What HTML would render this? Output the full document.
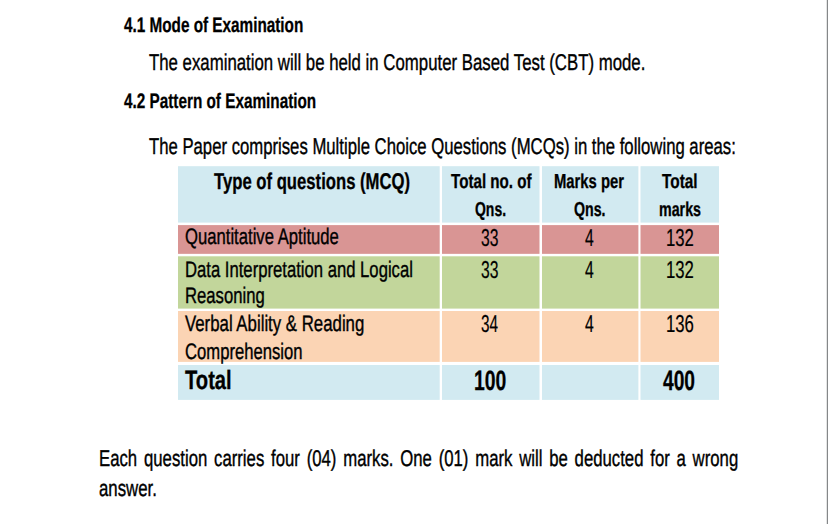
<!DOCTYPE html>
<html><head><meta charset="utf-8"><title>Examination Pattern</title>
<style>
html,body{margin:0;padding:0;background:#fff;}
body{width:828px;height:524px;position:relative;overflow:hidden;font-family:"Liberation Sans",sans-serif;color:#000;}
.c{position:absolute;}
.t{position:absolute;white-space:pre;transform-origin:0 0;line-height:normal;text-rendering:geometricPrecision;}
.r{-webkit-text-stroke:0.38px #000;}
.b{font-weight:bold;-webkit-text-stroke:0.3px #000;}
.n{-webkit-text-stroke:0.2px #000;}
</style></head><body>
<svg class="c" style="left:0;top:0" width="828" height="524" viewBox="0 0 828 524" shape-rendering="geometricPrecision">
<rect x="178" y="166.2" width="261.70" height="56.40" fill="#d2eaf1"/>
<rect x="442" y="166.2" width="97.50" height="56.40" fill="#d2eaf1"/>
<rect x="542" y="166.2" width="96.40" height="56.40" fill="#d2eaf1"/>
<rect x="640.5" y="166.2" width="78.50" height="56.40" fill="#d2eaf1"/>
<rect x="178" y="225.1" width="261.70" height="28.75" fill="#d99594"/>
<rect x="442" y="225.1" width="97.50" height="28.75" fill="#d99594"/>
<rect x="542" y="225.1" width="96.40" height="28.75" fill="#d99594"/>
<rect x="640.5" y="225.1" width="78.50" height="28.75" fill="#d99594"/>
<rect x="178" y="256.3" width="261.70" height="52.30" fill="#c2d69b"/>
<rect x="442" y="256.3" width="97.50" height="52.30" fill="#c2d69b"/>
<rect x="542" y="256.3" width="96.40" height="52.30" fill="#c2d69b"/>
<rect x="640.5" y="256.3" width="78.50" height="52.30" fill="#c2d69b"/>
<rect x="178" y="311.0" width="261.70" height="50.90" fill="#fbd4b4"/>
<rect x="442" y="311.0" width="97.50" height="50.90" fill="#fbd4b4"/>
<rect x="542" y="311.0" width="96.40" height="50.90" fill="#fbd4b4"/>
<rect x="640.5" y="311.0" width="78.50" height="50.90" fill="#fbd4b4"/>
<rect x="178" y="365.0" width="261.70" height="34.90" fill="#d2eaf1"/>
<rect x="442" y="365.0" width="97.50" height="34.90" fill="#d2eaf1"/>
<rect x="542" y="365.0" width="96.40" height="34.90" fill="#d2eaf1"/>
<rect x="640.5" y="365.0" width="78.50" height="34.90" fill="#d2eaf1"/>
</svg>
<div class="c" style="left:827px;top:0;width:1px;height:524px;background:#858789"></div>
<div class="c" style="left:826px;top:0;width:1px;height:524px;background:#e4e5e5"></div>
<div class="t b" style="left:123.86px;top:14.00px;font-size:21.0px;transform:scaleX(0.7281);">4.1 Mode of Examination</div>
<div class="t r" style="left:148.68px;top:49.00px;font-size:22.8px;transform:scaleX(0.7368);">The examination will be held in Computer Based Test (CBT) mode.</div>
<div class="t b" style="left:123.86px;top:90.00px;font-size:21.0px;transform:scaleX(0.7287);">4.2 Pattern of Examination</div>
<div class="t r" style="left:148.68px;top:133.00px;font-size:22.8px;transform:scaleX(0.7328);">The Paper comprises Multiple Choice Questions (MCQs) in the following areas:</div>
<div class="t b" style="left:214.41px;top:168.00px;font-size:22.8px;transform:scaleX(0.7314);">Type of questions (MCQ)</div>
<div class="t b" style="left:450.51px;top:171.00px;font-size:20.2px;transform:scaleX(0.7510);">Total no. of</div>
<div class="t b" style="left:474.67px;top:199.00px;font-size:20.2px;transform:scaleX(0.6917);">Qns.</div>
<div class="t b" style="left:554.43px;top:171.00px;font-size:20.2px;transform:scaleX(0.7336);">Marks per</div>
<div class="t b" style="left:573.66px;top:199.00px;font-size:20.2px;transform:scaleX(0.7032);">Qns.</div>
<div class="t b" style="left:661.71px;top:171.00px;font-size:20.2px;transform:scaleX(0.7610);">Total</div>
<div class="t b" style="left:658.56px;top:199.00px;font-size:20.2px;transform:scaleX(0.7057);">marks</div>
<div class="t r" style="left:185.01px;top:224.00px;font-size:22.4px;transform:scaleX(0.7445);">Quantitative Aptitude</div>
<div class="t n" style="left:481.47px;top:225.00px;font-size:24.5px;transform:scaleX(0.6403);">33</div>
<div class="t n" style="left:584.82px;top:225.00px;font-size:24.5px;transform:scaleX(0.6429);">4</div>
<div class="t n" style="left:666.22px;top:225.00px;font-size:24.5px;transform:scaleX(0.6822);">132</div>
<div class="t r" style="left:184.84px;top:257.00px;font-size:22.4px;transform:scaleX(0.7443);">Data Interpretation and Logical</div>
<div class="t r" style="left:184.84px;top:283.00px;font-size:22.4px;transform:scaleX(0.7442);">Reasoning</div>
<div class="t n" style="left:481.47px;top:257.00px;font-size:24.5px;transform:scaleX(0.6403);">33</div>
<div class="t n" style="left:584.82px;top:257.00px;font-size:24.5px;transform:scaleX(0.6429);">4</div>
<div class="t n" style="left:666.22px;top:257.00px;font-size:24.5px;transform:scaleX(0.6822);">132</div>
<div class="t r" style="left:184.74px;top:311.00px;font-size:22.4px;transform:scaleX(0.7503);">Verbal Ability &amp; Reading</div>
<div class="t r" style="left:184.56px;top:339.00px;font-size:22.4px;transform:scaleX(0.7432);">Comprehension</div>
<div class="t n" style="left:481.48px;top:311.00px;font-size:24.5px;transform:scaleX(0.6251);">34</div>
<div class="t n" style="left:584.82px;top:311.00px;font-size:24.5px;transform:scaleX(0.6429);">4</div>
<div class="t n" style="left:666.22px;top:311.00px;font-size:24.5px;transform:scaleX(0.6822);">136</div>
<div class="t b" style="left:184.61px;top:365.00px;font-size:26.5px;transform:scaleX(0.7608);">Total</div>
<div class="t b" style="left:474.24px;top:365.00px;font-size:28.0px;transform:scaleX(0.6911);">100</div>
<div class="t b" style="left:663.40px;top:365.00px;font-size:28.0px;transform:scaleX(0.6855);">400</div>
<div class="t r" style="left:98.73px;top:445.00px;font-size:22.8px;transform:scaleX(0.7348);word-spacing:2.86px;">Each question carries four (04) marks. One (01) mark will be deducted for a wrong</div>
<div class="t r" style="left:99.41px;top:475.00px;font-size:22.8px;transform:scaleX(0.7377);">answer.</div>
</body></html>
